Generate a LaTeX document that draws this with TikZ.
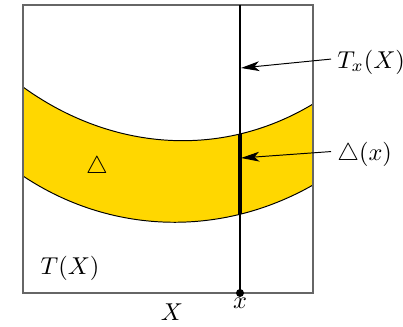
\documentclass[tikz,border=0pt]{standalone}
\usepackage{amsmath,amssymb}
\usepackage{xcolor}
\usetikzlibrary{arrows.meta,intersections}
\definecolor{bandgold}{RGB}{255,215,0}

\begin{document}
\begin{tikzpicture}[x=0.41pt,y=-0.41pt,
  lbl/.style={inner sep=1pt,font=\normalsize},
  side/.style={lbl,anchor=west,inner xsep=2.4pt},
  lead/.style={-{Stealth[length=7.5pt,width=4pt,inset=2pt]}}]
  \useasboundingbox (0,0) rectangle (403,326);
  % band
  \fill[bandgold] (23,87) .. controls (110,150) and (220,160) .. (313,104)
    -- (313,185) .. controls (220,238) and (110,234) .. (23,176) -- cycle;
  \draw[name path=top] (23,87) .. controls (110,150) and (220,160) .. (313,104);
  \draw[name path=bot] (23,176) .. controls (110,234) and (220,238) .. (313,185);
  % box
  \draw[black!60,line width=0.6pt] (23,5) rectangle (313,293);
  % fibre over x
  \coordinate (ftop) at (240,5);
  \coordinate (xpt) at (240,293);
  \path[name path=fibre] (ftop) -- (xpt);
  \path[name intersections={of=fibre and top,by=dtop}];
  \path[name intersections={of=fibre and bot,by=dbot}];
  \draw[line width=0.5pt] (ftop) -- (xpt);
  \draw[line width=1.6pt] (dtop) -- (dbot);
  \fill (xpt) circle (4);
  \node[lbl,below=1pt] (xlab) at (xpt) {$x$};
  \node[lbl] (Xlab) at (172,312) {$X$};
  \node[lbl] (TX) at (70,268) {$T(X)$};
  \node[lbl] (tri) at (97,167) {$\triangle$};
  % leaders
  \node[side] (Txlab) at (331,62) {$T_x(X)$};
  \node[side] (dxlab) at (331,154) {$\triangle(x)$};
  \coordinate (tin) at (241,68);
  \coordinate (din) at (241,158);
  \draw[lead] ([yshift=1.2pt]Txlab.west) -- (tin);
  \draw[lead] ([yshift=1pt]dxlab.west) -- (din);
\end{tikzpicture}
\end{document}
